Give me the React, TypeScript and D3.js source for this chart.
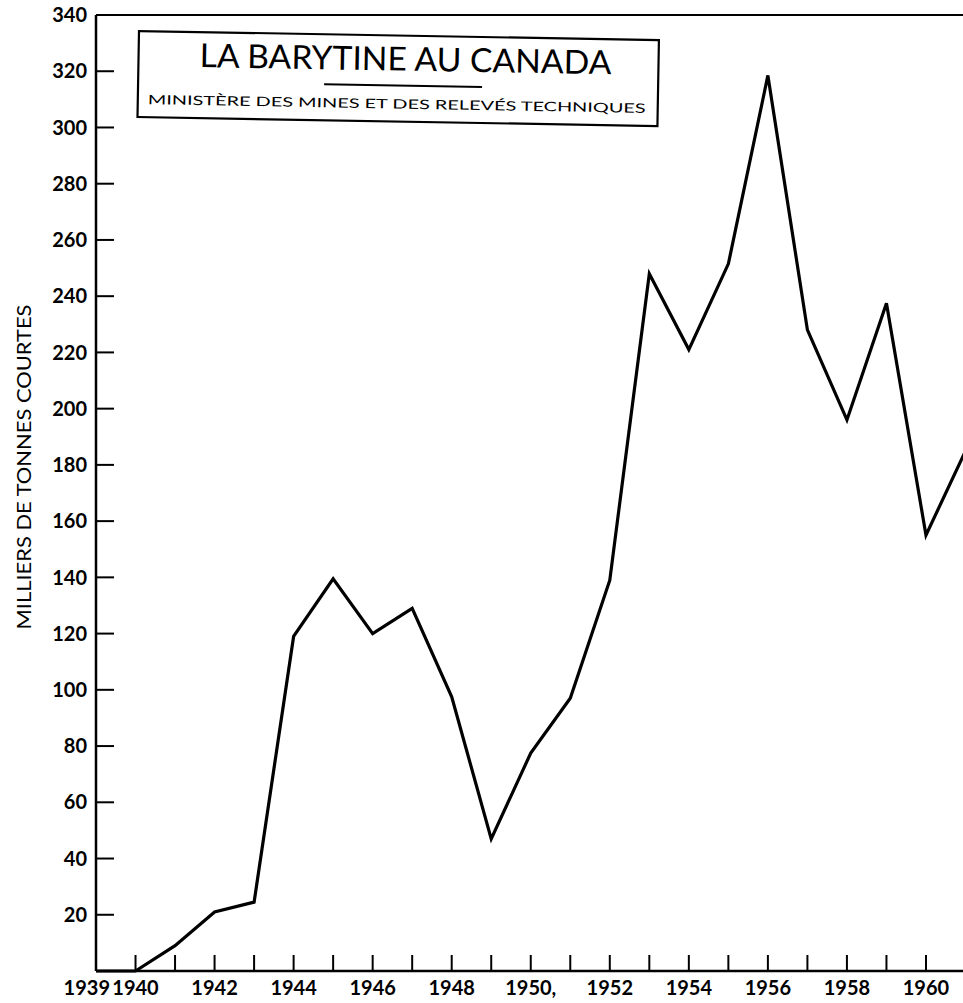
import React from "react";
import * as d3 from "d3";

const years = [1939, 1940, 1941, 1942, 1943, 1944, 1945, 1946, 1947, 1948, 1949, 1950, 1951, 1952, 1953, 1954, 1955, 1956, 1957, 1958, 1959, 1960, 1961];
const production = [0, 0, 9, 21, 24.5, 119, 139.5, 120, 129, 97.5, 47, 77.5, 97, 139, 248, 221, 251.5, 318.5, 228, 196, 237.5, 155, 185];
const yTickValues = [20, 40, 60, 80, 100, 120, 140, 160, 180, 200, 220, 240, 260, 280, 300, 320, 340];
const xTickYears = [1940, 1941, 1942, 1943, 1944, 1945, 1946, 1947, 1948, 1949, 1950, 1951, 1952, 1953, 1954, 1955, 1956, 1957, 1958, 1959, 1960];
const xLabelYears = [1939, 1940, 1942, 1944, 1946, 1948, 1950, 1952, 1954, 1956, 1958, 1960];
const xLabelText: Record<number, string> = { 1950: "1950," };
const title = "LA BARYTINE AU CANADA";
const subtitle = "MINISTÈRE DES MINES ET DES RELEVÉS TECHNIQUES";
const yAxisTitle = "MILLIERS DE TONNES COURTES";

const W = 963;
const H = 1003;
const left = 96;
const bottom = 971;
const top = 15;

export default function App() {
  const x = d3.scaleLinear().domain([1939, 1961]).range([left, 965.5]);
  const y = d3.scaleLinear().domain([0, 340]).range([bottom, top]);
  const line = d3
    .line<number>()
    .x((_, i) => x(years[i]))
    .y((d) => y(d));

  const tickFont = "Lato, 'Noto Sans', sans-serif";

  return (
    <svg
      width={W}
      height={H}
      viewBox={`0 0 ${W} ${H}`}
      style={{ position: "absolute", left: 0, top: 0, background: "#fff" }}
    >
      <rect x={0} y={0} width={W} height={H} fill="#fff" />
      {/* axes */}
      <line x1={left} y1={top} x2={left} y2={bottom} stroke="#000" strokeWidth={2.5} />
      <line x1={left} y1={bottom} x2={W} y2={bottom} stroke="#000" strokeWidth={2.5} />
      <line x1={left} y1={top} x2={W} y2={top} stroke="#000" strokeWidth={2} />

      {/* y ticks */}
      {yTickValues.map((v) => (
        <g key={v}>
          {v < 340 && (
            <line x1={left} x2={left + 18} y1={y(v)} y2={y(v)} stroke="#000" strokeWidth={2} />
          )}
          <text
            x={87}
            y={y(v)}
            dy="0.36em"
            textAnchor="end"
            fontFamily={tickFont}
            fontWeight={700}
            fontSize={20}
            fill="#000"
          >
            {v}
          </text>
        </g>
      ))}

      {/* x ticks */}
      {xTickYears.map((yr) => (
        <line key={yr} x1={x(yr)} x2={x(yr)} y1={bottom} y2={bottom - 16} stroke="#000" strokeWidth={2} />
      ))}
      {xLabelYears.map((yr) => (
        <text
          key={yr}
          x={yr === 1939 ? x(yr) + 14 : x(yr)}
          y={995}
          textAnchor={yr === 1939 ? "end" : "middle"}
          fontFamily={tickFont}
          fontWeight={700}
          fontSize={20}
          fill="#000"
        >
          {xLabelText[yr] ?? String(yr)}
        </text>
      ))}

      {/* y axis title */}
      <text
        transform={`translate(31, 467) rotate(-90)`}
        textAnchor="middle"
        fontFamily={tickFont}
        fontSize={19}
        textLength={325}
        lengthAdjust="spacingAndGlyphs"
        fill="#000"
      >
        {yAxisTitle}
      </text>

      {/* data line */}
      <path d={line(production) ?? ""} fill="none" stroke="#000" strokeWidth={3.2} strokeLinejoin="miter" />

      {/* title box */}
      <g transform="rotate(1 138 31)">
        <rect x={139} y={31} width={520} height={86} fill="#fff" stroke="#000" strokeWidth={2.2} />
        <text
          x={406}
          y={66}
          textAnchor="middle"
          fontFamily="Lato, 'Noto Sans', sans-serif"
          fontSize={33}
          textLength={412}
          lengthAdjust="spacingAndGlyphs"
          fill="#000"
        >
          {title}
        </text>
        <line x1={325} x2={483} y1={81} y2={81} stroke="#000" strokeWidth={2} />
        <text
          x={398}
          y={104}
          textAnchor="middle"
          fontFamily="Lato, 'Noto Sans', sans-serif"
          fontSize={13}
          textLength={498}
          lengthAdjust="spacingAndGlyphs"
          fill="#000"
        >
          {subtitle}
        </text>
      </g>
    </svg>
  );
}
